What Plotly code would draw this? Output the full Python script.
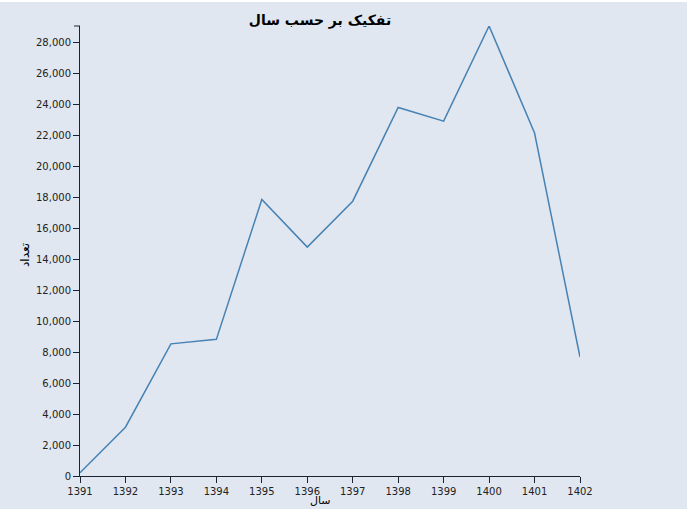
import plotly.graph_objects as go

# yearly counts (Persian calendar years)
years = [1391, 1392, 1393, 1394, 1395, 1396, 1397, 1398, 1399, 1400, 1401, 1402]
counts = [210, 3150, 8530, 8820, 17850, 14780, 17740, 23790, 22910, 29050, 22140, 7680]

title_text = "تفکیک بر حسب سال"
x_label = "سال"
y_label = "تعداد"

bg = "#e1e7f0"
axis_col = "#1b2333"
top_gap = 2  # thin white strip above the chart, as in the page
W, H = 687, 509 - top_gap
ml, mr, mt, mb = 80, 107, 26 - top_gap, 33

fig = go.Figure()
fig.add_trace(go.Scatter(x=years, y=counts, mode="lines",
                         line=dict(color="#4682b4", width=1.5),
                         hoverinfo="x+y"))

fig.update_layout(
    width=W, height=H,
    margin=dict(l=ml, r=mr, t=mt, b=mb),
    paper_bgcolor=bg, plot_bgcolor=bg,
    showlegend=False,
    font=dict(family="DejaVu Sans", size=10, color="#222"),
    title=dict(text="<b>" + title_text + "</b>", x=320 / W, xref="container",
               xanchor="center", y=1 - (20 - top_gap) / H, yref="container",
               yanchor="middle",
               font=dict(family="DejaVu Sans", size=14, color="#000")),
)

fig.update_xaxes(range=[years[0], years[-1]], tickmode="array", tickvals=years,
                 ticktext=[str(y) for y in years],
                 showgrid=False, zeroline=False, showline=True, linecolor=axis_col,
                 linewidth=1, ticks="outside", ticklen=6, tickcolor=axis_col,
                 tickfont=dict(size=10, color="#222"))
fig.update_yaxes(range=[0, max(counts)], dtick=2000, tickformat=",",
                 showgrid=False, zeroline=False, showline=True, linecolor=axis_col,
                 linewidth=1, ticks="outside", ticklen=6, tickcolor=axis_col,
                 tickfont=dict(size=10, color="#222"))

# d3-style outer tick cap at top of y axis
fig.add_shape(type="line", xref="paper", yref="paper", x0=-6 / (W - ml - mr), x1=0,
              y0=1, y1=1, line=dict(color=axis_col, width=1))

plot_h = H - mt - mb
fig.add_annotation(text=x_label, xref="paper", yref="paper",
                   x=(320 - ml) / (W - ml - mr),
                   y=-(mb - 1) / plot_h,
                   showarrow=False, xanchor="center", yanchor="bottom", borderpad=0,
                   font=dict(family="DejaVu Sans", size=11, color="#000"))
fig.add_annotation(text=y_label, xref="paper", yref="paper",
                   x=-(ml - 25) / (W - ml - mr),
                   y=(H - mb - (255 - top_gap)) / plot_h,
                   showarrow=False, xanchor="center", yanchor="middle", textangle=-90,
                   font=dict(family="DejaVu Sans", size=12, color="#000"))

fig.write_html("out.html",
               post_script="document.body.style.margin='%dpx 0 0 0';" % top_gap)
